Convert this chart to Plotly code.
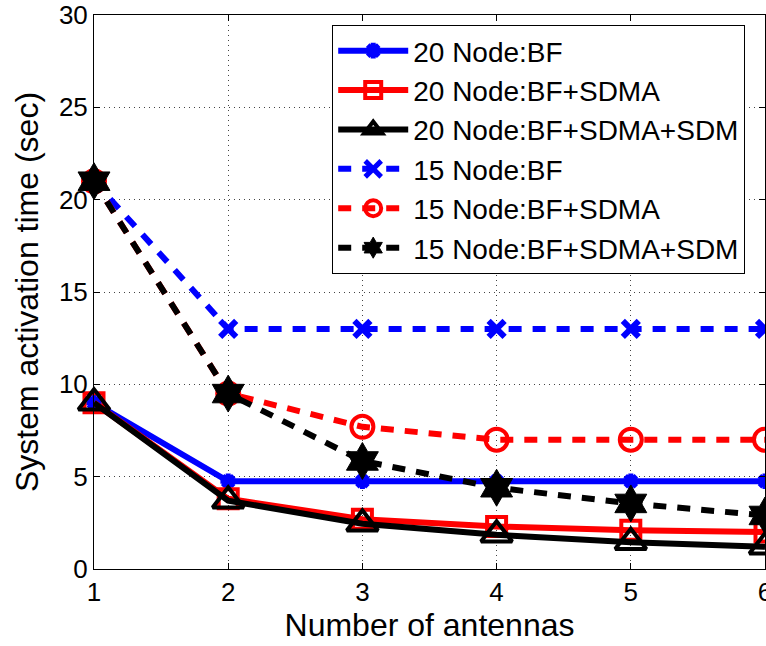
import plotly.graph_objects as go

antennas = [1, 2, 3, 4, 5, 6]

n20_bf = [9.0, 4.75, 4.75, 4.75, 4.75, 4.75]
n20_bf_sdma = [9.0, 3.8, 2.7, 2.3, 2.1, 2.0]
n20_bf_sdma_sdm = [9.0, 3.7, 2.45, 1.85, 1.45, 1.2]
n15_bf = [21.0, 13.0, 13.0, 13.0, 13.0, 13.0]
n15_bf_sdma = [21.0, 9.5, 7.7, 7.0, 7.0, 7.0]
n15_bf_sdma_sdm = [21.0, 9.5, 5.85, 4.4, 3.55, 2.9]

names = [
    "20 Node:BF",
    "20 Node:BF+SDMA",
    "20 Node:BF+SDMA+SDM",
    "15 Node:BF",
    "15 Node:BF+SDMA",
    "15 Node:BF+SDMA+SDM",
]

FONT = "Liberation Sans, Arial, sans-serif"
DASH = "13px,11px"

fig = go.Figure()

specs = [
    (n20_bf, names[0], "#0000FF", "solid", dict(symbol="asterisk-open", size=13, line=dict(width=5, color="#0000FF"))),
    (n20_bf_sdma, names[1], "#FF0000", "solid", dict(symbol="square-open", size=19, line=dict(width=4, color="#FF0000"))),
    (n20_bf_sdma_sdm, names[2], "#000000", "solid", dict(symbol="triangle-up-open", size=27, line=dict(width=4, color="#000000"))),
    (n15_bf, names[3], "#0000FF", DASH, dict(symbol="x-thin-open", size=16, line=dict(width=6, color="#0000FF"))),
    (n15_bf_sdma, names[4], "#FF0000", DASH, dict(symbol="circle-open", size=22, line=dict(width=4, color="#FF0000"))),
    (n15_bf_sdma_sdm, names[5], "#000000", DASH, dict(symbol="hexagram", size=28, color="#000000", line=dict(width=1, color="#000000"))),
]

for ys, nm, col, dash, mk in specs:
    fig.add_trace(go.Scatter(
        x=antennas, y=ys, name=nm, mode="lines+markers",
        line=dict(color=col, width=6, dash=dash),
        marker=mk, cliponaxis=False,
    ))

axis_common = dict(
    showline=True, linecolor="black", linewidth=1, mirror="allticks",
    ticks="inside", ticklen=6, tickcolor="black",
    showgrid=True, gridcolor="#444444", griddash="1px,4px", gridwidth=1,
    zeroline=False, tickfont=dict(family=FONT, size=26, color="black"),
    ticklabeloverflow="allow",
)

fig.update_xaxes(range=[1, 6], dtick=1, tick0=1,
                 title=dict(text="Number of antennas", font=dict(family=FONT, size=32, color="black"), standoff=5),
                 **axis_common)
fig.update_yaxes(range=[0, 30], dtick=5, tick0=0,
                 title=dict(text="System activation time (sec)", font=dict(family=FONT, size=32, color="black"), standoff=10),
                 **axis_common)

fig.update_layout(
    width=766, height=646,
    margin=dict(l=94, r=1, t=15, b=77, autoexpand=False),
    paper_bgcolor="white", plot_bgcolor="white",
    font=dict(family=FONT, color="black"),
    legend=dict(
        x=0.355, y=0.982, xanchor="left", yanchor="top",
        bgcolor="white", bordercolor="black", borderwidth=1,
        font=dict(family=FONT, size=28, color="black"),
        itemwidth=70, tracegroupgap=0,
    ),
)

fig.write_html("out.html")
